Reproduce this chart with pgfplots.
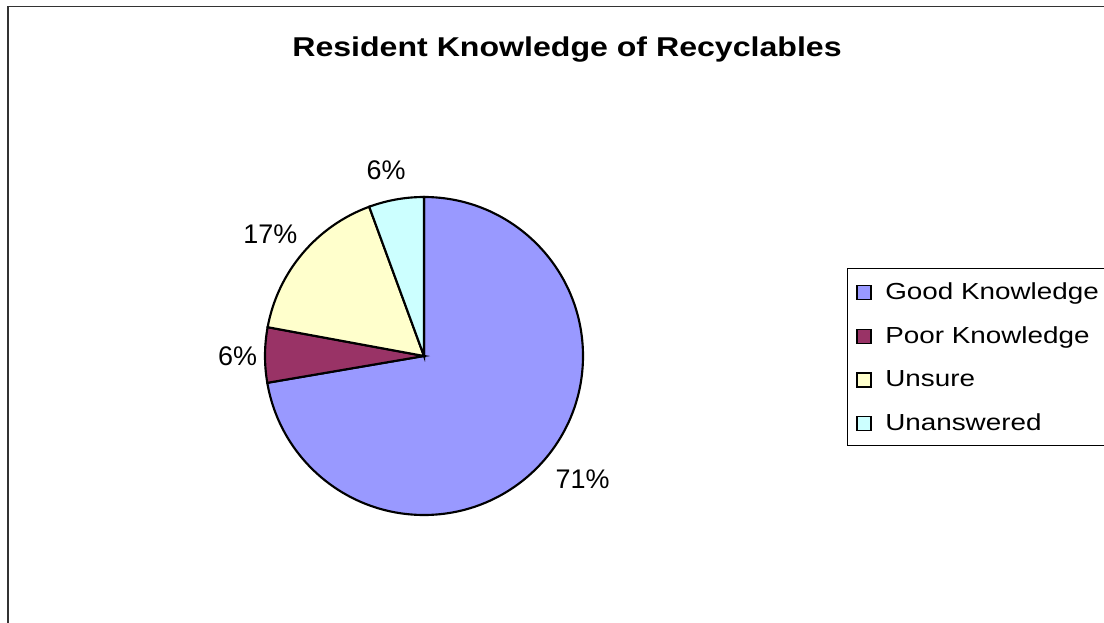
\documentclass[border=0pt]{standalone}
\usepackage{pgfplots}
\pgfplotsset{compat=1.18}
\usepackage{graphicx}
\usepackage{fontspec}
\setmainfont{Liberation Sans}
\definecolor{cGood}{HTML}{9999FF}
\definecolor{cPoor}{HTML}{993366}
\definecolor{cUnsure}{HTML}{FFFFCC}
\definecolor{cUnans}{HTML}{CCFFFF}
% data (percent of residents)
\def\vGood{72.3}
\def\vPoor{5.6}
\def\vUnsure{16.5}
\def\vUnans{5.6}
\pgfmathsetmacro\aA{90}
\pgfmathsetmacro\aB{\aA-3.6*\vGood}
\pgfmathsetmacro\aC{\aB-3.6*\vPoor}
\pgfmathsetmacro\aD{\aC-3.6*\vUnsure}
\pgfmathsetmacro\aE{\aD-3.6*\vUnans}
\def\R{119.25pt}
\begin{document}
\begin{tikzpicture}
\useasboundingbox (0,0) rectangle (828pt,466.5pt);
\begin{axis}[
  at={(0,0)}, anchor=south west,
  x=0.75pt, y=0.75pt,
  xmin=0, xmax=1104, ymin=0, ymax=622,
  enlargelimits=false, hide axis, clip=false,
]
% chart frame
\draw[line width=1.2pt, black!80] (axis cs:8,-5) -- (axis cs:8,615.5) -- (axis cs:1110,615.5);
% title
\node[anchor=base] at (axis cs:567,565.3) {\scalebox{1.18}[1]{\fontsize{20.4pt}{24pt}\selectfont\bfseries Resident Knowledge of Recyclables}};
% pie wedges
\draw[line width=1.6pt, fill=cGood] (axis cs:424,266) -- ++(\aA:\R) arc[start angle=\aA, end angle=\aB, radius=\R] -- cycle;
\draw[line width=1.6pt, fill=cPoor] (axis cs:424,266) -- ++(\aB:\R) arc[start angle=\aB, end angle=\aC, radius=\R] -- cycle;
\draw[line width=1.6pt, fill=cUnsure] (axis cs:424,266) -- ++(\aC:\R) arc[start angle=\aC, end angle=\aD, radius=\R] -- cycle;
\draw[line width=1.6pt, fill=cUnans] (axis cs:424,266) -- ++(\aD:\R) arc[start angle=\aD, end angle=\aE, radius=\R] -- cycle;
% data labels
\node[anchor=base, font=\fontsize{20.2pt}{24pt}\selectfont, inner sep=0pt] at (axis cs:386,442) {6\%};
\node[anchor=base, font=\fontsize{20.2pt}{24pt}\selectfont, inner sep=0pt] at (axis cs:270.3,378) {17\%};
\node[anchor=base, font=\fontsize{20.2pt}{24pt}\selectfont, inner sep=0pt] at (axis cs:237.5,256) {6\%};
\node[anchor=base, font=\fontsize{20.2pt}{24pt}\selectfont, inner sep=0pt] at (axis cs:582.5,133.7) {71\%};
% legend
\draw[line width=0.9pt, black] (axis cs:1110,353.7) -- (axis cs:847.3,353.7) -- (axis cs:847.3,176.3) -- (axis cs:1110,176.3);
\draw[line width=1.2pt, fill=cGood] (axis cs:857,322.3) rectangle (axis cs:871,336.3);
\draw[line width=1.2pt, fill=cPoor] (axis cs:857,278.3) rectangle (axis cs:871,292.3);
\draw[line width=1.2pt, fill=cUnsure] (axis cs:857,234.7) rectangle (axis cs:871,248.7);
\draw[line width=1.2pt, fill=cUnans] (axis cs:857,191.3) rectangle (axis cs:871,205.3);
\node[anchor=base west, inner sep=0pt] at (axis cs:885,322.7) {\scalebox{1.2}[1]{\fontsize{17.4pt}{20pt}\selectfont Good Knowledge}};
\node[anchor=base west, inner sep=0pt] at (axis cs:885,278.3) {\scalebox{1.2}[1]{\fontsize{17.4pt}{20pt}\selectfont Poor Knowledge}};
\node[anchor=base west, inner sep=0pt] at (axis cs:885,235) {\scalebox{1.2}[1]{\fontsize{17.4pt}{20pt}\selectfont Unsure}};
\node[anchor=base west, inner sep=0pt] at (axis cs:885,191.6) {\scalebox{1.2}[1]{\fontsize{17.4pt}{20pt}\selectfont Unanswered}};
\end{axis}
\end{tikzpicture}
\end{document}
